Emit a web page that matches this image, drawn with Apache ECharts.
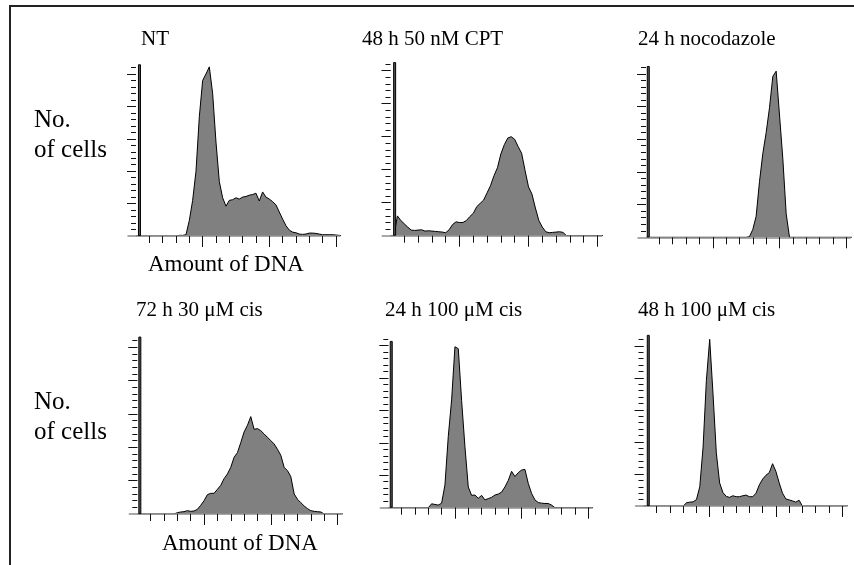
<!DOCTYPE html>
<html>
<head>
<meta charset="utf-8">
<script src="https://cdn.jsdelivr.net/npm/echarts@6/dist/echarts.min.js"></script>
<style>
  html, body { margin: 0; padding: 0; background: #fff; }
  #chart { width: 854px; height: 565px; }
</style>
</head>
<body>
<div id="chart"></div>
<script>
/* DNA content histograms — 6 panels */

// ------------- data -------------
const binWidth = 0.25; // channel units per bin, bins start at channel 0
const panelTitles = ["NT", "48 h 50 nM CPT", "24 h nocodazole", "72 h 30 μM cis", "24 h 100 μM cis", "48 h 100 μM cis"];

const ntCounts = [
  0, 0, 0, 0, 0, 0, 0, 0,
  0, 0, 0, 0, 0, 0.1, 0.1, 0.2,
  2.4, 5.5, 10, 18.4, 24, 25, 26.1, 22,
  14.5, 8.4, 5.9, 4.6, 5.5, 5.6, 5.9, 5.7,
  6.0, 6.1, 6.3, 6.4, 6.6, 5.4, 6.8, 6.0,
  5.7, 5.3, 4.8, 3.7, 2.6, 1.6, 0.9, 0.6,
  0.5, 0.3, 0.25, 0.3, 0.45, 0.45, 0.4, 0.3,
  0.2, 0.2, 0.2, 0.2, 0.15, 0.1, 0,
];
const cptCounts = [
  0, 0, 3.0, 2.3, 1.8, 1.3, 0.85, 0.8,
  0.85, 0.9, 0.7, 0.75, 0.7, 0.65, 0.6, 0.55,
  0.45, 0.9, 1.7, 2.1, 2.0, 2.0, 2.3, 2.9,
  3.4, 4.4, 4.9, 5.4, 6.5, 7.6, 9.1, 10.3,
  12.4, 13.8, 14.8, 15.0, 14.6, 13.5, 12.5, 9.9,
  7.4, 6.3, 4.2, 2.3, 1.3, 0.6, 0.45, 0.5,
  0.55, 0.6, 0.5, 0, 0, 0, 0, 0,
  0, 0, 0, 0, 0, 0, 0,
];
const nocoCounts = [
  0, 0, 0, 0, 0, 0, 0, 0,
  0, 0, 0, 0, 0, 0, 0, 0,
  0, 0, 0, 0, 0, 0, 0, 0,
  0, 0, 0, 0, 0, 0, 0, 0.1,
  1.2, 3.2, 8.5, 12.8, 16, 19.8, 24.6, 25.4,
  18.7, 12, 3.6, 0, 0, 0, 0, 0,
  0, 0, 0, 0, 0, 0, 0, 0,
  0, 0, 0, 0, 0, 0, 0,
];
const cis72Counts = [
  0, 0, 0, 0, 0, 0, 0, 0,
  0, 0, 0, 0, 0.2, 0.3, 0.35, 0.5,
  0.4, 0.45, 0.7, 1.3, 2.0, 2.9, 3.1, 3.1,
  3.7, 4.3, 5.3, 6.0, 7.0, 8.5, 9.2, 10.7,
  12.3, 13.3, 14.6, 12.7, 12.8, 12.5, 12.0, 11.5,
  11.0, 10.5, 9.7, 8.8, 7.0, 6.5, 5.6, 3.0,
  2.2, 1.7, 1.2, 0.8, 0.5, 0.4, 0.35, 0.3,
  0, 0, 0, 0, 0, 0, 0,
];
const cis24Counts = [
  0, 0, 0, 0, 0, 0, 0, 0,
  0, 0, 0, 0, 0, 0.6, 0.5, 0.4,
  0.7, 3.5, 11, 16.6, 24.8, 24.5, 16.5, 9.4,
  3.2, 1.9, 1.95, 1.45, 1.9, 1.2, 1.4, 1.6,
  1.95, 2.1, 2.4, 3.2, 4.2, 5.6, 4.8, 5.4,
  5.8, 5.9, 3.75, 2.2, 1.2, 0.8, 0.7, 0.65,
  0.65, 0.4, 0, 0, 0, 0, 0, 0,
  0, 0, 0, 0, 0, 0, 0,
];
const cis48Counts = [
  0, 0, 0, 0, 0, 0, 0, 0,
  0, 0, 0, 0, 0, 0.5, 0.6, 0.65,
  1.0, 3.0, 9.2, 19.6, 26.0, 17.5, 8.3, 3.6,
  2.1, 1.5, 1.35, 1.6, 1.45, 1.45, 1.6, 1.7,
  1.45, 1.45, 2.0, 3.3, 4.2, 4.8, 5.2, 6.6,
  5.4, 3.6, 2.0, 1.1, 0.95, 0.8, 0.6, 0.9,
  0, 0, 0, 0, 0, 0, 0, 0,
  0, 0, 0, 0, 0, 0, 0,
];
const panelCounts = [ntCounts, cptCounts, nocoCounts, cis72Counts, cis24Counts, cis48Counts];

// off-scale debris spike at channel ~0
const spikeChannel = [0.26, 0.3, 0.17, 0.19, 0.22, 0.36];
const spikeHeight = [26.5, 26.3, 26.2, 26.6, 25.7, 26.7];

const minorTicksX = [1, 2, 3, 4, 5, 6, 7, 8, 9, 10, 11, 12, 13, 14, 15];
const majorTicksX = [5, 10, 15];
const minorTicksY = [1, 2, 3, 4, 5, 6, 7, 8, 9, 10, 11, 12, 13, 14, 15, 16, 17, 18, 19, 20, 21, 22, 23, 24, 25, 26];
const majorTicksY = [5, 10, 15, 20, 25];

// ------------- layout -------------
const X_MIN = -0.6, X_MAX = 15.3, Y_MAX = 27;
// x0: pixel of channel 0, ux: px per channel, base: baseline px, uy: px per count unit
const PANELS = [
  {x0: 136, ux: 13.33, base: 236, uy: 6.48},
  {x0: 390.5, ux: 13.8, base: 235.7, uy: 6.6},
  {x0: 646, ux: 13.35, base: 237.3, uy: 6.54},
  {x0: 137.3, ux: 13.35, base: 514, uy: 6.67},
  {x0: 388.3, ux: 13.33, base: 507.7, uy: 6.49},
  {x0: 643.5, ux: 13.24, base: 506, uy: 6.41},
];
const FONT = '"Liberation Serif", "Times New Roman", serif';
const TICK_COLOR = "#111";

// ------------- build -------------
const grids = [], xAxes = [], yAxes = [], series = [];

PANELS.forEach((p, i) => {
  grids.push({
    left: p.x0 + X_MIN * p.ux,
    top: p.base - Y_MAX * p.uy,
    width: (X_MAX - X_MIN) * p.ux,
    height: Y_MAX * p.uy,
  });
  const xBase = {gridIndex: i, type: "value", position: "bottom", min: X_MIN, max: X_MAX, z: 3,
    axisLabel: {show: false}, splitLine: {show: false}};
  xAxes.push(Object.assign({}, xBase, {
    axisLine: {show: true, onZero: false, lineStyle: {color: "#8c8c8c", width: 1.5}},
    axisTick: {show: true, customValues: minorTicksX, length: 7, lineStyle: {color: TICK_COLOR, width: 1}},
  }));
  xAxes.push(Object.assign({}, xBase, {
    axisLine: {show: false, onZero: false},
    axisTick: {show: true, customValues: majorTicksX, length: 11, lineStyle: {color: TICK_COLOR, width: 1}},
  }));
  // y axis sits at channel 0, not at the grid's left edge
  const yBase = {gridIndex: i, type: "value", min: 0, max: Y_MAX, position: "left",
    offset: X_MIN * p.ux, axisLabel: {show: false}, splitLine: {show: false},
    axisLine: {show: false, onZero: false}};
  yAxes.push(Object.assign({}, yBase, {
    axisTick: {show: true, customValues: minorTicksY, length: 5, lineStyle: {color: TICK_COLOR, width: 1}},
  }));
  yAxes.push(Object.assign({}, yBase, {
    axisTick: {show: true, customValues: majorTicksY, length: 9, lineStyle: {color: TICK_COLOR, width: 1}},
  }));

  const ax = i * 2;
  series.push({
    type: "line",
    xAxisIndex: ax, yAxisIndex: ax,
    data: panelCounts[i].map((v, k) => [k * binWidth, v]),
    symbol: "none",
    lineStyle: {color: "#000", width: 1},
    areaStyle: {color: "#808080", opacity: 1},
    z: 2,
    silent: true,
  });
  series.push({
    type: "bar",
    xAxisIndex: ax, yAxisIndex: ax,
    data: [[spikeChannel[i], spikeHeight[i]]],
    barWidth: 3,
    itemStyle: {color: "#555", borderColor: "#000", borderWidth: 1},
    z: 4,
    silent: true,
  });
});

function label(text, x, y, size) {
  return {type: "text", x: x, y: y, silent: true,
    style: {text: text, font: `${size}px ${FONT}`, fill: "#000", verticalAlign: "middle", align: "left"}};
}

const graphics = [
  // frame
  {type: "line", shape: {x1: 9, y1: 6, x2: 854, y2: 6}, style: {stroke: "#222", lineWidth: 2}, silent: true},
  {type: "line", shape: {x1: 10, y1: 5, x2: 10, y2: 565}, style: {stroke: "#222", lineWidth: 2}, silent: true},
  label(panelTitles[0], 141, 39, 21),
  label(panelTitles[1], 362, 39, 21),
  label(panelTitles[2], 638, 39, 21),
  label(panelTitles[3], 136, 310, 21),
  label(panelTitles[4], 385, 310, 21),
  label(panelTitles[5], 638, 310, 21),
  label("No.", 34, 120, 25),
  label("of cells", 34, 150, 25),
  label("No.", 34, 402, 25),
  label("of cells", 34, 432, 25),
  label("Amount of DNA", 148, 265, 23),
  label("Amount of DNA", 162, 544, 23),
];

const chart = echarts.init(document.getElementById("chart"));
chart.setOption({
  animation: false,
  backgroundColor: "#fff",
  grid: grids,
  xAxis: xAxes,
  yAxis: yAxes,
  series: series,
  graphic: graphics,
});
</script>
</body>
</html>
